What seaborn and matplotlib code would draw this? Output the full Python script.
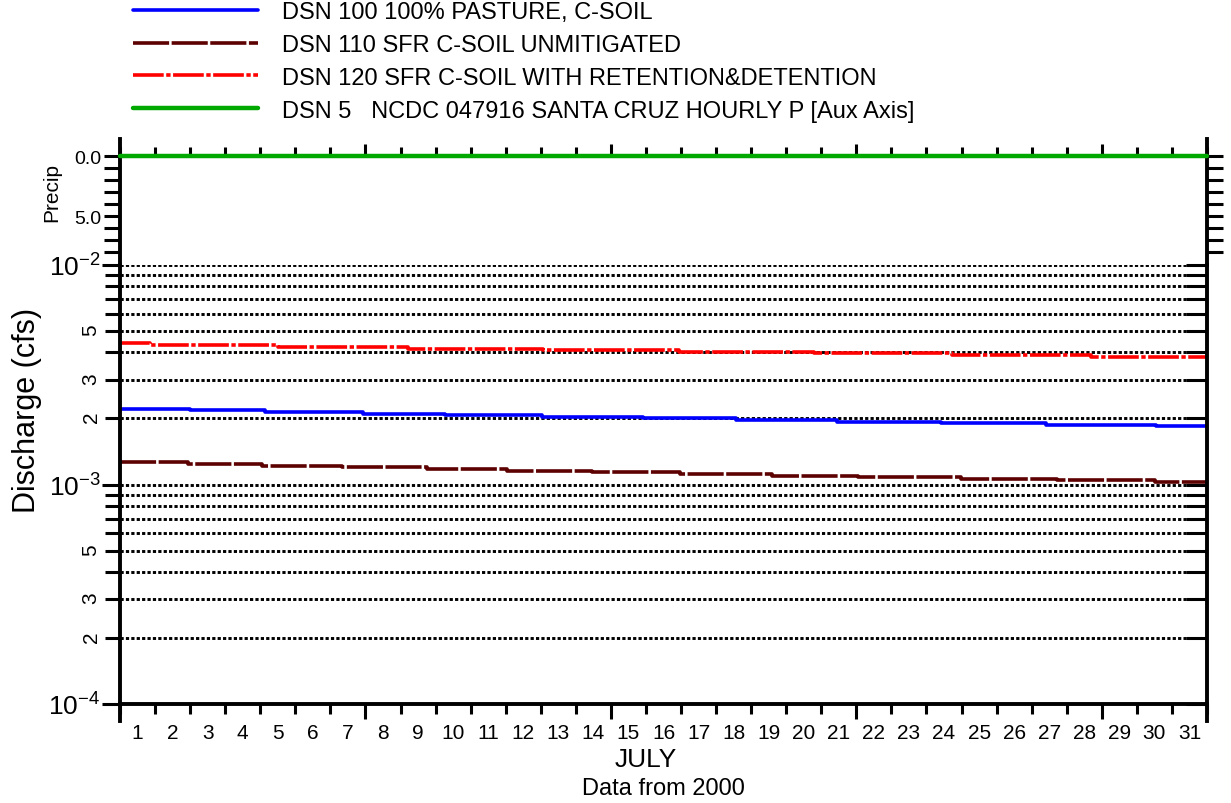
import numpy as np
import pandas as pd
import matplotlib
matplotlib.use("Agg")
import matplotlib.pyplot as plt
import seaborn as sns
from matplotlib.ticker import FixedLocator, FuncFormatter, LogLocator, NullFormatter, FixedFormatter

# ---------------- data ----------------
day_labels = [str(d) for d in range(1, 32)]
month_end = 31.0
week_marks = [7, 14, 21, 28]

blue_step_days = [0.0, 2.0, 4.14, 6.93, 9.27, 12.03, 14.92, 17.57, 20.44, 23.42, 26.41, 29.55]
blue_vals = [2.214e-3, 2.178e-3, 2.140e-3, 2.104e-3, 2.069e-3, 2.035e-3,
             2.001e-3, 1.967e-3, 1.934e-3, 1.902e-3, 1.871e-3, 1.840e-3]

brown_step_days = [0.0, 1.93, 4.04, 6.32, 8.75, 11.03, 13.45, 15.97, 18.6, 21.06, 23.98, 26.72, 29.52]
brown_vals = [1.262e-3, 1.240e-3, 1.218e-3, 1.198e-3, 1.176e-3, 1.156e-3, 1.137e-3,
              1.119e-3, 1.099e-3, 1.080e-3, 1.064e-3, 1.047e-3, 1.030e-3]

red_step_days = [0.0, 0.86, 4.51, 8.21, 12.06, 15.94, 19.79, 23.73, 27.69]
red_vals = [4.397e-3, 4.306e-3, 4.229e-3, 4.164e-3, 4.099e-3, 4.035e-3,
            3.960e-3, 3.890e-3, 3.821e-3]

precip_days = [0.0, 31.0]
precip_vals = [0.0, 0.0]

labels = ["DSN 100 100% PASTURE, C-SOIL",
          "DSN 110 SFR C-SOIL UNMITIGATED",
          "DSN 120 SFR C-SOIL WITH RETENTION&DETENTION",
          "DSN 5   NCDC 047916 SANTA CRUZ HOURLY P [Aux Axis]"]

# ---------------- style ----------------
sns.set_style("white")
plt.rcParams["font.family"] = ["Liberation Sans", "DejaVu Sans"]
plt.rcParams["mathtext.fontset"] = "custom"
plt.rcParams["mathtext.rm"] = "Liberation Sans"
plt.rcParams["mathtext.it"] = "Liberation Sans:italic"
plt.rcParams["mathtext.bf"] = "Liberation Sans:bold"
for k in ["text.color", "axes.labelcolor", "xtick.color", "ytick.color", "axes.edgecolor"]:
    plt.rcParams[k] = "black"

W_PX, H_PX = 1231, 804
fig = plt.figure(figsize=(W_PX / 100, H_PX / 100), dpi=100)
fig.patch.set_facecolor("white")

left_px, right_px = 120, 1207
main_top, main_bot = 266, 705
aux_top = 157

ax = fig.add_axes([left_px / W_PX, 1 - main_bot / H_PX,
                   (right_px - left_px) / W_PX, (main_bot - main_top) / H_PX])
axp = fig.add_axes([left_px / W_PX, 1 - main_top / H_PX,
                    (right_px - left_px) / W_PX, (main_top - aux_top) / H_PX])

ax.set_yscale("log")
ax.set_xlim(0, month_end)
ax.set_ylim(1e-4, 1e-2)


def step_frame(d, v):
    return pd.DataFrame({"day": list(d) + [month_end], "q": list(v) + [v[-1]]})


LW = 2.6
# grid first (below lines)
ax.grid(which="both", axis="y", color="black", linestyle=(0, (1.1, 0.75)), linewidth=2.1)
ax.grid(which="both", axis="x", visible=False)

sns.lineplot(data=step_frame(blue_step_days, blue_vals), x="day", y="q", ax=ax,
             color="#0000ff", linewidth=LW, drawstyle="steps-post",
             estimator=None, errorbar=None, legend=False)
l_blue = ax.lines[-1]
sns.lineplot(data=step_frame(brown_step_days, brown_vals), x="day", y="q", ax=ax,
             color="#5c0000", linewidth=LW, drawstyle="steps-post",
             estimator=None, errorbar=None, legend=False)
l_brown = ax.lines[-1]
l_brown.set_dashes([10, 0.7])
sns.lineplot(data=step_frame(red_step_days, red_vals), x="day", y="q", ax=ax,
             color="#ff0000", linewidth=LW, drawstyle="steps-post",
             estimator=None, errorbar=None, legend=False)
l_red = ax.lines[-1]
l_red.set_dashes([8.5, 0.7, 1.2, 0.7])
for l in (l_blue, l_brown, l_red):
    l.set_dash_capstyle("butt")

ax.set_xlabel("")
ax.set_ylabel("")

# aux axis
axp.set_xlim(0, month_end)
sns.lineplot(x=precip_days, y=precip_vals, ax=axp, color="#00a800", linewidth=3.2,
             estimator=None, errorbar=None, legend=False)
l_green = axp.lines[-1]
l_green.set_clip_on(False)
l_green.set_zorder(5)
axp.set_ylim(9.08, 0)
axp.set_xlabel("")
axp.set_ylabel("")
axp.patch.set_alpha(0)

# ---------------- spines ----------------
SW = 2.8
for s in ["left", "right", "bottom"]:
    ax.spines[s].set_linewidth(SW)
    ax.spines[s].set_color("black")
ax.spines["top"].set_visible(False)
ax.spines["left"].set_bounds(8.4e-5, 1e-2)
ax.spines["right"].set_bounds(8.4e-5, 1e-2)
for s in ["left", "right", "top"]:
    axp.spines[s].set_linewidth(SW)
    axp.spines[s].set_color("black")
axp.spines["bottom"].set_visible(False)
axp.spines["left"].set_bounds(9.08, -1.4)
axp.spines["right"].set_bounds(9.08, -1.4)

# ---------------- main y ticks ----------------
ax.yaxis.set_major_locator(LogLocator(base=10, numticks=10))
ax.yaxis.set_minor_locator(LogLocator(base=10, subs=np.arange(2, 10), numticks=20))
ax.yaxis.set_major_formatter(FuncFormatter(
    lambda v, p: r"$\mathregular{10^{%d}}$" % int(round(np.log10(v)))))


def minor_fmt(v, p):
    m = int(round(v / 10 ** np.floor(np.log10(v) + 1e-9)))
    return str(m) if m in (2, 3, 5) else ""


ax.yaxis.set_minor_formatter(FuncFormatter(minor_fmt))
ax.tick_params(axis="y", which="major", direction="out", length=13, width=2.2,
               labelsize=19, pad=1, left=True, right=False)
ax.tick_params(axis="y", which="minor", direction="out", length=11, width=2.2,
               labelsize=15, pad=3, left=True, right=False, labelrotation=90)

# inward ticks on right via twin axis
axr = ax.twinx()
axr.set_yscale("log")
axr.set_ylim(ax.get_ylim())
axr.yaxis.set_major_locator(LogLocator(base=10, numticks=10))
axr.yaxis.set_minor_locator(LogLocator(base=10, subs=np.arange(2, 10), numticks=20))
axr.yaxis.set_major_formatter(NullFormatter())
axr.yaxis.set_minor_formatter(NullFormatter())
axr.tick_params(axis="y", which="both", direction="in", length=15, width=2.2,
                right=True, left=False, labelright=False)
for s in axr.spines.values():
    s.set_visible(False)
axr.grid(False)

# ---------------- x ticks ----------------
ax.xaxis.set_major_locator(FixedLocator(list(range(0, 32))))
ax.xaxis.set_major_formatter(NullFormatter())
ax.xaxis.set_minor_locator(FixedLocator([d - 0.5 for d in range(1, 32)]))
ax.xaxis.set_minor_formatter(FixedFormatter(day_labels))
ax.tick_params(axis="x", which="major", direction="out", length=7.5, width=2.2,
               bottom=True, top=False)
ax.tick_params(axis="x", which="minor", length=0, labelsize=15, pad=14,
               bottom=True, top=False)

axp.xaxis.set_major_locator(FixedLocator(list(range(0, 32))))
axp.xaxis.set_major_formatter(NullFormatter())
axp.xaxis.set_minor_locator(FixedLocator([]))
axp.tick_params(axis="x", which="major", direction="out", length=6.5, width=2.2,
                top=True, bottom=False, labeltop=False, labelbottom=False)

# aux y ticks
axp.yaxis.set_major_locator(FixedLocator([0, 5]))
axp.yaxis.set_major_formatter(FixedFormatter(["0.0", "5.0"]))
axp.yaxis.set_minor_locator(FixedLocator([1, 2, 3, 4, 6, 7, 8]))
axp.tick_params(axis="y", which="both", direction="out", length=11.5, width=2.2,
                left=True, right=True, labelleft=True, labelright=False,
                labelsize=14, pad=2)
axp.grid(False)

# longer weekly ticks
fig.canvas.draw()
for t, loc in zip(ax.xaxis.get_major_ticks(), ax.xaxis.get_majorticklocs()):
    if int(round(loc)) in week_marks:
        t.tick1line.set_markersize(10.5)
for t, loc in zip(axp.xaxis.get_major_ticks(), axp.xaxis.get_majorticklocs()):
    if int(round(loc)) in week_marks:
        t.tick2line.set_markersize(9)

# ---------------- texts ----------------
fig.text(27 / W_PX, 1 - 410 / H_PX, "Discharge (cfs)", rotation=90,
         ha="center", va="center", fontsize=22)
fig.text(52 / W_PX, 1 - 193 / H_PX, "Precip", rotation=90,
         ha="center", va="center", fontsize=15)
fig.text(646 / W_PX, 1 - 760 / H_PX, "JULY", ha="center", va="center", fontsize=19)
fig.text(663 / W_PX, 1 - 789 / H_PX, "Data from 2000", ha="center", va="center", fontsize=17)

fig.legend([l_blue, l_brown, l_red, l_green], labels, loc="upper left",
           bbox_to_anchor=(133 / W_PX, 1 - 2 / H_PX), bbox_transform=fig.transFigure,
           frameon=False, fontsize=17, handlelength=5.3, handletextpad=1.0,
           labelspacing=0.46, borderpad=0, borderaxespad=0)

fig.savefig("out.png", dpi=100, facecolor="white")
